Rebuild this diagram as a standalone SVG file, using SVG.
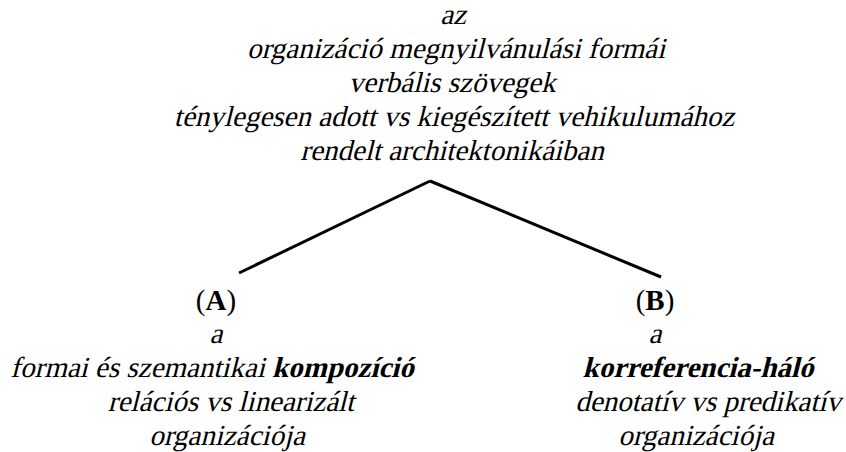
<svg xmlns="http://www.w3.org/2000/svg" width="846" height="452" viewBox="0 0 846 452">
<style>
text{font-family:"Liberation Serif","Times New Roman","DejaVu Serif",serif;font-size:29px;fill:#000;text-anchor:middle;font-style:normal}
.b{font-weight:bold}
</style>
<rect width="846" height="452" fill="#fff"/>
<g id="root">
<text transform="translate(453,24) skewX(-14)">az</text>
<text transform="translate(456,58) skewX(-14)">organizáció megnyilvánulási formái</text>
<text transform="translate(452,92) skewX(-14)">verbális szövegek</text>
<text transform="translate(454,126) skewX(-14)">ténylegesen adott vs kiegészített vehikulumához</text>
<text transform="translate(452,160) skewX(-14)">rendelt architektonikáiban</text>
</g>
<g id="A">
<text x="216" y="310">(<tspan class="b">A</tspan>)</text>
<text transform="translate(216,343) skewX(-14)">a</text>
<text transform="translate(212,377) skewX(-14)">formai és szemantikai <tspan class="b">kompozíció</tspan></text>
<text transform="translate(231,411) skewX(-14)">relációs vs linearizált</text>
<text transform="translate(227,445) skewX(-14)">organizációja</text>
</g>
<g id="B">
<text x="655" y="310">(<tspan class="b">B</tspan>)</text>
<text transform="translate(655,343) skewX(-14)">a</text>
<text class="b" transform="translate(698,377) skewX(-14)">korreferencia-háló</text>
<text transform="translate(708,411) skewX(-14)">denotatív vs predikatív</text>
<text transform="translate(696,445) skewX(-14)">organizációja</text>
</g>
<g id="connectors" stroke="#000" stroke-width="3" fill="none">
<line x1="430" y1="181" x2="239" y2="273"/>
<line x1="430" y1="181" x2="661" y2="277"/>
</g>
</svg>
